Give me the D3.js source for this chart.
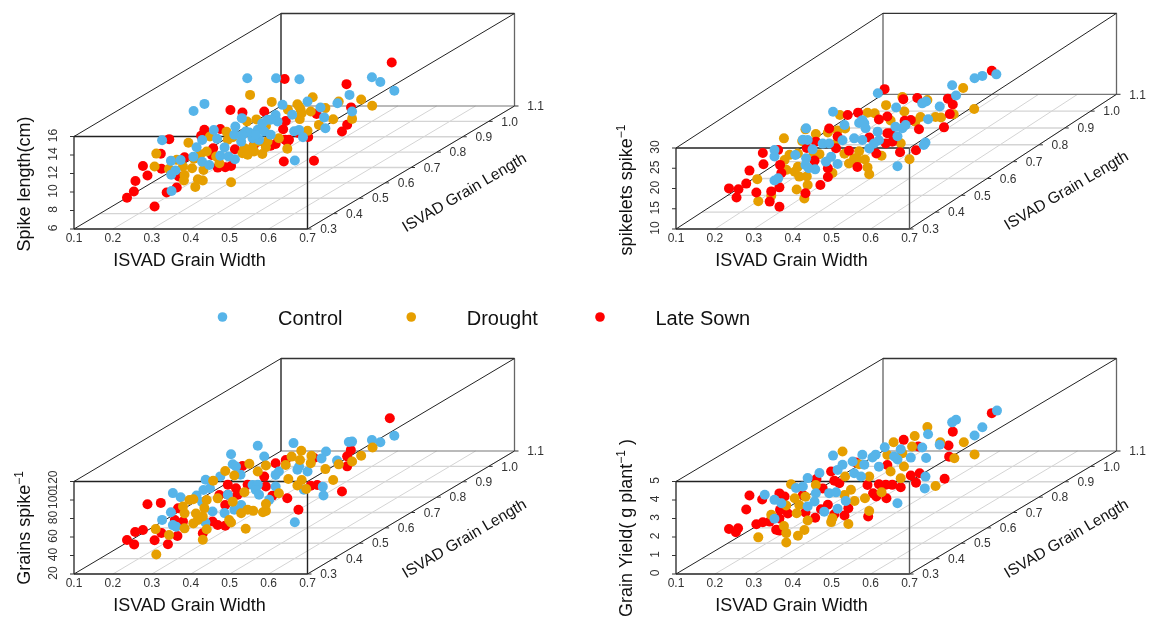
<!DOCTYPE html>
<html>
<head>
<meta charset="utf-8">
<script src="https://cdn.jsdelivr.net/npm/d3@7"></script>
<style>
  html, body { margin: 0; padding: 0; background: #fff; }
  svg { display: block; font-family: "Liberation Sans", Arial, sans-serif; filter: blur(0.35px); }
</style>
</head>
<body>
<div id="chart"></div>
<script>
// points are [grain width, grain length, trait value]

var widthTicks = [0.1, 0.2, 0.3, 0.4, 0.5, 0.6, 0.7];
var lengthTicks = [0.3, 0.4, 0.5, 0.6, 0.7, 0.8, 0.9, 1.0, 1.1];
var spikeTicks = [6, 8, 10, 12, 14, 16];
var spikeletTicks = [10, 15, 20, 25, 30];
var grainTicks = [20, 40, 60, 80, 100, 120];
var yieldTicks = [0, 1, 2, 3, 4, 5];

var seriesNames = ["Control", "Drought", "Late Sown"];
var seriesColors = ["#56B4E9", "#E69F00", "#FF0000"];

var spikeControl = [[.266,.72,15.31],[.34,.72,15.31],[.4,.72,15.2],[.269,.55,15.37],[.241,.55,14.6],[.567,.749,14.95],[.58,.762,14.22],[.602,.783,12.92],[.532,.715,13.6],[.513,.697,13],[.466,.652,13.93],[.427,.614,14.2],[.486,.672,12.95],[.536,.719,11.73],[.492,.677,11.8],[.494,.679,10.6],[.442,.629,12.88],[.363,.553,13.78],[.353,.543,13.03],[.319,.511,13.2],[.238,.433,13.39],[.301,.493,12.41],[.324,.516,12.16],[.292,.485,11.77],[.336,.527,11.05],[.301,.493,10.07],[.252,.446,10.94],[.267,.461,10.79],[.259,.453,9.78],[.252,.447,9.42],[.253,.447,7.66],[.287,.48,10.83],[.329,.521,10.25],[.352,.543,9.5],[.342,.533,9.96],[.312,.504,9.53],[.362,.552,11.26],[.369,.559,12.23],[.38,.569,11.33],[.388,.577,12.13],[.398,.587,11.77],[.408,.597,11.26],[.395,.584,12.7],[.403,.592,12.95],[.416,.604,13.28],[.419,.607,12.52],[.351,.542,12.16],[.375,.564,12.05],[.39,.579,11],[.446,.633,7.87],[.445,.632,11.05],[.453,.639,11.08],[.459,.645,10.18],[.364,.554,11.95],[.385,.574,11.62],[.408,.597,12.88]];
var spikeDrought = [[.353,.6,15.51],[.41,.598,14.79],[.474,.66,14.25],[.45,.637,13.89],[.435,.623,13.53],[.455,.642,13.2],[.457,.643,12.81],[.471,.657,12.77],[.494,.679,12.77],[.515,.699,13.14],[.55,.733,12.81],[.567,.75,11.84],[.536,.719,10.94],[.506,.691,11.37],[.484,.669,11.12],[.454,.64,12.23],[.386,.575,13.28],[.371,.561,13.28],[.401,.589,12.34],[.339,.53,12.7],[.466,.652,10.76],[.279,.473,12.45],[.229,.424,12.09],[.226,.422,10.72],[.249,.443,10.11],[.261,.455,10.9],[.285,.478,9.6],[.271,.464,10.04],[.273,.467,9.06],[.272,.466,8.49],[.303,.495,9.14],[.294,.487,8.27],[.302,.494,8.02],[.29,.483,7.51],[.346,.537,7.12],[.288,.481,10.58],[.298,.491,10.9],[.308,.5,11.05],[.328,.519,9.46],[.341,.532,11.8],[.349,.539,11.95],[.367,.557,10.47],[.364,.554,9.96],[.372,.562,9.68],[.382,.572,9.86],[.38,.569,10.36],[.39,.579,10.83],[.403,.592,10.61],[.401,.589,10.04],[.395,.584,9.39],[.434,.622,9.32],[.421,.609,10.68],[.313,.505,12.59],[.323,.514,10.29],[.453,.639,13.6]];
var spikeLate = [[.584,.8,15.68],[.362,.72,15.24],[.527,.711,14.83],[.345,.536,14.94],[.364,.554,14.36],[.398,.587,13.93],[.48,.666,12.34],[.534,.718,12.2],[.528,.712,10.43],[.52,.704,9.82],[.452,.638,10.76],[.467,.653,10.07],[.432,.619,12.38],[.428,.615,11.55],[.437,.624,10.25],[.431,.618,10.36],[.304,.497,13.46],[.329,.521,13.14],[.249,.444,13.32],[.299,.492,12.88],[.236,.431,11.95],[.208,.404,11.08],[.215,.411,9.93],[.237,.432,10.32],[.196,.393,9.64],[.194,.39,8.56],[.183,.38,8.05],[.226,.422,6.4],[.245,.44,7.62],[.261,.455,7.91],[.264,.458,9.06],[.273,.467,10.97],[.325,.517,9.03],[.337,.528,8.88],[.346,.537,8.88],[.318,.51,11.23],[.316,.508,10.54],[.352,.543,10.58],[.429,.616,8.05],[.476,.662,7.37],[.416,.604,10.14],[.401,.589,10.18],[.408,.597,10.07],[.434,.622,10.11],[.382,.572,10.58]];

var spikeletControl = [[.366,.68,27.7],[.533,.716,28.2],[.568,.75,28.5],[.58,.762,28.6],[.602,.783,28.1],[.539,.722,25.4],[.492,.677,25.8],[.486,.671,25.6],[.445,.632,26.2],[.513,.698,23.7],[.346,.537,29.1],[.495,.68,21.3],[.491,.676,15.7],[.488,.674,15.2],[.447,.634,11.6],[.392,.581,25.2],[.395,.584,24.3],[.387,.576,24.7],[.397,.586,23],[.364,.554,25.1],[.304,.496,26.7],[.306,.499,23.7],[.299,.491,24.1],[.33,.521,21.9],[.34,.531,21.5],[.361,.551,21.5],[.379,.569,21.2],[.392,.581,20.3],[.416,.604,21.4],[.418,.606,19.2],[.41,.599,18.7],[.403,.591,17.8],[.447,.634,19],[.444,.631,21.5],[.455,.641,20.7],[.46,.646,21.3],[.254,.449,23.3],[.254,.449,21.7],[.287,.48,20.8],[.314,.506,21.1],[.304,.496,19.3],[.303,.495,17.7],[.308,.5,16.7],[.318,.51,16],[.335,.526,17.2],[.343,.534,18.1],[.353,.544,15.9],[.26,.454,16.1],[.254,.449,15.8]];
var spikeletDrought = [[.55,.733,26.8],[.455,.641,28.4],[.494,.679,26.1],[.429,.617,27.4],[.458,.644,24.7],[.4,.589,26.7],[.411,.6,26.1],[.357,.547,27.9],[.483,.669,22.3],[.475,.661,21.5],[.507,.691,21.4],[.515,.7,20.9],[.535,.719,20.9],[.567,.75,20.9],[.436,.624,23.3],[.365,.555,24.2],[.353,.544,24.2],[.338,.529,24.3],[.319,.511,24.7],[.303,.495,26.5],[.269,.463,25.6],[.298,.49,23.8],[.314,.506,19.3],[.325,.516,19.5],[.348,.539,20.9],[.364,.554,18],[.387,.576,17.7],[.379,.569,16.3],[.371,.561,15.3],[.384,.574,15.7],[.396,.585,15.3],[.4,.589,13.2],[.403,.591,11.4],[.422,.61,15.2],[.466,.652,12.6],[.452,.639,17.1],[.291,.484,21],[.278,.471,21.2],[.27,.464,20.2],[.273,.466,17.7],[.291,.484,17.7],[.286,.479,16.7],[.293,.486,15.2],[.305,.497,14.8],[.306,.499,12.6],[.289,.482,12.2],[.33,.45,11.3],[.249,.444,12.2],[.229,.424,11.7],[.227,.423,17.2],[.345,.536,14]];
var spikeletLate = [[.37,.7,27.9],[.456,.643,27.8],[.478,.664,27.2],[.526,.71,25.1],[.534,.717,23.4],[.529,.713,21.2],[.52,.704,18.3],[.385,.575,27.3],[.369,.559,27.4],[.418,.606,24.3],[.431,.619,24.5],[.468,.654,22.2],[.458,.645,22.4],[.481,.666,19.4],[.476,.662,14.4],[.451,.638,14.9],[.414,.602,16.1],[.431,.619,20.4],[.436,.624,20.2],[.403,.591,20.5],[.439,.626,18],[.429,.616,18],[.595,.776,29.3],[.236,.431,23.3],[.26,.454,23.1],[.237,.432,20.5],[.215,.411,19.8],[.263,.457,19.3],[.21,.406,16.8],[.183,.38,16.7],[.198,.394,15.9],[.195,.391,14],[.226,.421,14],[.249,.444,13.3],[.247,.441,10.9],[.286,.42,10.5],[.262,.456,13.8],[.303,.495,10.7],[.326,.518,11.8],[.338,.529,13.3],[.338,.529,15.5],[.317,.509,18.2],[.265,.459,17.2],[.305,.497,21.8],[.319,.511,22.8],[.351,.541,19.9],[.371,.561,18.5],[.384,.574,13.9],[.34,.531,25.2],[.353,.544,22.7]];

var grainControl = [[.388,.577,112.6],[.444,.631,106.5],[.536,.719,93.5],[.531,.714,93.9],[.567,.749,90.3],[.58,.762,85.6],[.602,.783,89.2],[.495,.68,89.2],[.488,.673,83],[.346,.537,110],[.398,.587,99.3],[.349,.539,98.9],[.354,.544,95.7],[.512,.697,76.6],[.466,.652,72.3],[.453,.639,79.8],[.45,.637,76.6],[.421,.609,79.5],[.416,.604,76.6],[.329,.521,88.8],[.306,.499,88.8],[.361,.551,85.6],[.255,.449,82.7],[.267,.461,76.2],[.292,.485,74.1],[.303,.495,78.4],[.313,.505,78.7],[.301,.493,65.4],[.38,.569,71.5],[.388,.577,70.5],[.385,.574,65.4],[.416,.604,64],[.49,.675,52.1],[.491,.676,42.3],[.46,.647,53.5],[.341,.532,67.2],[.317,.509,52.8],[.336,.527,48.1],[.362,.552,52.8],[.351,.542,49.2],[.252,.446,62.5],[.238,.433,56.4],[.255,.449,48.1],[.26,.454,45.6],[.306,.498,42.7],[.446,.633,20.5],[.39,.579,59.3],[.406,.594,51.3]];
var grainDrought = [[.456,.643,96.3],[.441,.628,92.4],[.472,.658,88.4],[.454,.641,86.6],[.471,.657,80.5],[.432,.619,84.8],[.375,.564,95.2],[.401,.589,89.2],[.388,.577,84.8],[.337,.528,93.5],[.318,.51,85.9],[.351,.542,86.2],[.436,.623,69],[.457,.643,64.6],[.45,.637,59.6],[.464,.65,53.8],[.494,.679,70.4],[.506,.691,56.7],[.515,.699,72.2],[.536,.719,71.9],[.55,.733,75.8],[.568,.75,81.9],[.421,.609,56],[.367,.557,65.7],[.349,.539,58.5],[.325,.517,65.7],[.308,.5,66.8],[.281,.474,71.1],[.287,.48,70.8],[.271,.464,65.7],[.273,.467,57.8],[.291,.484,54.9],[.294,.487,47.4],[.287,.48,44.8],[.304,.497,58.5],[.302,.494,49.9],[.308,.5,35.1],[.302,.494,24.7],[.273,.467,41.6],[.249,.443,38.4],[.228,.423,48.1],[.229,.424,20.4],[.343,.534,39.4],[.346,.537,36.2],[.369,.559,25.8],[.362,.552,43.8],[.372,.562,45.9],[.381,.57,43.4],[.396,.585,39.4],[.401,.589,40.2],[.401,.589,47.7]];
var grainLate = [[.595,.776,109.3],[.534,.717,84.8],[.528,.712,78.7],[.528,.712,67.9],[.52,.704,42],[.481,.667,55.3],[.471,.657,56],[.416,.604,89.2],[.432,.619,90.3],[.364,.554,94.6],[.398,.587,77.6],[.401,.589,66.5],[.372,.562,73],[.341,.532,78],[.354,.544,72.2],[.341,.532,67.2],[.356,.547,64.6],[.328,.519,69],[.434,.622,48.4],[.411,.599,54.9],[.452,.638,33.3],[.215,.411,76.9],[.236,.431,75.1],[.263,.457,65],[.258,.452,53.1],[.271,.464,49.5],[.317,.509,42],[.325,.517,36.9],[.337,.528,34.4],[.337,.528,56.7],[.302,.494,31.9],[.262,.456,35.1],[.237,.432,42.3],[.226,.422,36.2],[.196,.392,50.2],[.208,.404,50.2],[.183,.38,43.4],[.194,.391,36.9],[.247,.442,28.6],[.476,.662,85.2]];

var yieldControl = [[.603,.784,4.81],[.539,.722,4.83],[.533,.716,4.74],[.58,.762,4.09],[.568,.75,3.75],[.495,.68,4.4],[.513,.698,3.68],[.486,.671,3.75],[.492,.677,3.14],[.427,.615,4.23],[.452,.639,3.93],[.392,.581,4.11],[.346,.537,4.43],[.413,.601,3.95],[.408,.596,3.84],[.468,.654,3.35],[.447,.634,3.41],[.442,.629,3.62],[.418,.606,3.26],[.395,.584,3.55],[.377,.566,3.87],[.361,.551,3.82],[.353,.544,3.6],[.325,.516,3.66],[.306,.499,3.53],[.379,.569,3.21],[.39,.579,2.95],[.491,.676,2.14],[.49,.675,1.51],[.447,.634,1.05],[.239,.434,3.17],[.254,.449,2.77],[.265,.459,2.5],[.288,.481,3.14],[.299,.491,3.14],[.319,.511,2.61],[.34,.531,2.45],[.351,.541,2.41],[.317,.509,2.18],[.306,.499,2],[.353,.544,1.5],[.332,.524,1.51],[.366,.556,1.82],[.254,.449,1.75]];
var yieldDrought = [[.494,.679,4.79],[.474,.66,4.47],[.441,.628,4.4],[.47,.656,3.93],[.514,.699,3.8],[.551,.734,3.51],[.568,.75,2.72],[.536,.72,2.77],[.507,.691,1.51],[.431,.619,3.78],[.455,.641,3.69],[.361,.551,4.54],[.457,.644,2.95],[.436,.624,2.85],[.403,.591,2.85],[.365,.555,3.15],[.28,.474,3.41],[.319,.511,3.06],[.387,.576,3.64],[.303,.495,2.56],[.286,.479,2.61],[.273,.466,2.32],[.293,.486,2.18],[.289,.482,1.77],[.306,.499,1.24],[.345,.536,1.05],[.343,.534,.86],[.37,.56,.54],[.403,.591,.99],[.38,.569,1.71],[.364,.554,2.16],[.374,.564,2.36],[.396,.585,1.73],[.422,.61,1.84],[.249,.444,2],[.269,.463,1.24],[.273,.466,.83],[.273,.466,.32],[.291,.484,.54],[.301,.494,.77],[.229,.424,.95],[.452,.639,2.36]];
var yieldLate = [[.595,.776,4.74],[.534,.717,4.23],[.457,.643,4.4],[.527,.711,3.53],[.48,.665,3.86],[.528,.712,2.92],[.521,.705,1.78],[.482,.667,2.4],[.468,.654,2.38],[.476,.662,1.93],[.431,.619,3.24],[.343,.534,3.6],[.382,.571,3.78],[.32,.512,3.37],[.215,.411,3.32],[.235,.43,2.95],[.262,.456,3.06],[.27,.464,2.83],[.21,.406,2.61],[.263,.457,2.16],[.275,.469,1.87],[.303,.495,1.71],[.327,.519,1.68],[.338,.529,1.84],[.318,.51,1.3],[.348,.539,1.24],[.364,.554,1.05],[.37,.56,1.39],[.401,.59,.7],[.183,.38,1.77],[.197,.394,1.69],[.194,.39,1.51],[.226,.421,1.68],[.236,.431,1.71],[.247,.441,1.66],[.262,.456,1.71],[.257,.451,1.14],[.262,.456,1.05],[.409,.597,1.89],[.414,.602,1.68],[.43,.617,1.46],[.452,.639,1.87],[.439,.626,2.11],[.429,.616,2.2],[.418,.606,2.31],[.356,.546,2.86],[.348,.539,3.05],[.4,.589,2.41],[.33,.521,2.79],[.299,.491,2.68]];

var width = 1158,
    height = 617;

var panels = [
    {left: 74, bottom: 229, zh: 92.5, rise: 123, labelX: 24, labelY: 184, lenY: -37, order: [2, 1, 0],
     ticks: spikeTicks, label: [["Spike length(cm)"]], series: [spikeControl, spikeDrought, spikeLate]},
    {left: 676, bottom: 229, zh: 81, rise: 134.7, labelX: 626, labelY: 190, lenY: -39, order: [1, 2, 0],
     ticks: spikeletTicks, label: [["spikelets spike"], ["\u22121", 1]], series: [spikeletControl, spikeletDrought, spikeletLate]},
    {left: 74, bottom: 574, zh: 92.5, rise: 123, labelX: 24, labelY: 528, lenY: -36, order: [2, 0, 1],
     ticks: grainTicks, label: [["Grains spike"], ["\u22121", 1]], series: [grainControl, grainDrought, grainLate]},
    {left: 676, bottom: 574, zh: 92.5, rise: 123, labelX: 626, labelY: 528, lenY: -36, order: [2, 1, 0],
     ticks: yieldTicks, label: [["Grain Yield( g plant"], ["\u22121", 1], [" )", 2]], series: [yieldControl, yieldDrought, yieldLate]}
];

var svg = d3.select("#chart").append("svg")
    .attr("width", width)
    .attr("height", height);

panels.forEach(drawPanel);
drawLegend();

function drawPanel(p) {
    var g = svg.append("g");

    var xW = d3.scaleLinear().domain([0.1, 0.7]).range([p.left, p.left + 233.5]);
    var yZ = d3.scaleLinear().domain(d3.extent(p.ticks)).range([p.bottom, p.bottom - p.zh]);
    var dxL = d3.scaleLinear().domain([0.3, 1.1]).range([0, 207]);
    var dyL = d3.scaleLinear().domain([0.3, 1.1]).range([0, -p.rise]);

    var zMin = p.ticks[0],
        zMax = p.ticks[p.ticks.length - 1];

    function px(w, l) { return xW(w) + dxL(l); }
    function py(z, l) { return yZ(z) + dyL(l); }

    function seg(a, b, color, sw) {
        g.append("line")
            .attr("x1", px(a[0], a[1])).attr("y1", py(a[2], a[1]))
            .attr("x2", px(b[0], b[1])).attr("y2", py(b[2], b[1]))
            .attr("stroke", color)
            .attr("stroke-width", sw);
    }

    // floor grid
    widthTicks.slice(1).forEach(function(t) {
        seg([t, 0.3, zMin], [t, 1.1, zMin], "#d4d4d4", 1);
    });
    lengthTicks.slice(1, -1).forEach(function(t) {
        seg([0.1, t, zMin], [0.7, t, zMin], "#d4d4d4", 1.4);
    });

    // box, back wall first
    seg([0.1, 1.1, zMin], [0.7, 1.1, zMin], "#777", 1.2);
    seg([0.1, 1.1, zMin], [0.1, 1.1, zMax], p.left > 300 ? "#777" : "#333", 1.5);
    seg([0.7, 1.1, zMin], [0.7, 1.1, zMax], "#666", 1.3);
    seg([0.1, 1.1, zMax], [0.7, 1.1, zMax], "#333", 1.3);
    seg([0.1, 0.3, zMin], [0.1, 1.1, zMin], "#222", 1);
    seg([0.7, 0.3, zMin], [0.7, 1.1, zMin], "#222", 1);
    seg([0.1, 0.3, zMax], [0.1, 1.1, zMax], "#222", 1);
    seg([0.7, 0.3, zMax], [0.7, 1.1, zMax], "#222", 1);
    seg([0.1, 0.3, zMin], [0.7, 0.3, zMin], "#222", 1.3);
    seg([0.1, 0.3, zMax], [0.7, 0.3, zMax], "#222", 1.4);
    seg([0.1, 0.3, zMin], [0.1, 0.3, zMax], "#222", 1.3);
    seg([0.7, 0.3, zMin], [0.7, 0.3, zMax], p.left > 300 ? "#555" : "#222", 1.4);

    // tick marks and numbers
    p.ticks.forEach(function(t) {
        g.append("line")
            .attr("x1", p.left - 4).attr("x2", p.left)
            .attr("y1", yZ(t)).attr("y2", yZ(t))
            .attr("stroke", "#333");
        g.append("text")
            .attr("transform", "translate(" + (p.left - 21) + "," + (yZ(t) - 1) + ") rotate(-90)")
            .attr("text-anchor", "middle")
            .attr("dy", "0.35em")
            .attr("font-size", 12)
            .attr("fill", "#333")
            .text(t);
    });

    widthTicks.forEach(function(t) {
        g.append("text")
            .attr("x", xW(t)).attr("y", p.bottom + 9)
            .attr("text-anchor", "middle")
            .attr("dy", "0.35em")
            .attr("font-size", 12)
            .attr("fill", "#333")
            .text(d3.format(".1f")(t));
    });

    lengthTicks.forEach(function(t) {
        g.append("line")
            .attr("x1", px(0.7, t)).attr("x2", px(0.7, t) + 4)
            .attr("y1", py(zMin, t)).attr("y2", py(zMin, t))
            .attr("stroke", "#333");
        g.append("text")
            .attr("x", px(0.7, t) + 21).attr("y", py(zMin, t))
            .attr("text-anchor", "middle")
            .attr("dy", "0.35em")
            .attr("font-size", 12)
            .attr("fill", "#333")
            .text(d3.format(".1f")(t));
    });

    // axis titles
    g.append("text")
        .attr("x", p.left + 115.5).attr("y", p.bottom + 31)
        .attr("text-anchor", "middle")
        .attr("dy", "0.35em")
        .attr("font-size", 18)
        .attr("fill", "#111")
        .text("ISVAD Grain Width");

    g.append("text")
        .attr("transform", "translate(" + (p.left + 390) + "," + (p.bottom + p.lenY) + ") rotate(-30.4)")
        .attr("text-anchor", "middle")
        .attr("dy", "0.35em")
        .attr("font-size", 15.7)
        .attr("fill", "#111")
        .text("ISVAD Grain Length");

    var title = g.append("text")
        .attr("transform", "translate(" + p.labelX + "," + p.labelY + ") rotate(-90)")
        .attr("text-anchor", "middle")
        .attr("dy", "0.35em")
        .attr("font-size", 18)
        .attr("fill", "#111");
    p.label.forEach(function(part) {
        var span = title.append("tspan").text(part[0]);
        if (part[1] == 1) span.attr("dy", -7).attr("font-size", 12);
        if (part[1] == 2) span.attr("dy", 7);
    });

    // points, drawn in the panel's own series order
    p.order.forEach(function(i) {
        g.append("g").selectAll("circle")
            .data(p.series[i])
            .enter().append("circle")
            .attr("cx", function(d) { return px(d[0], d[1]); })
            .attr("cy", function(d) { return py(d[2], d[1]); })
            .attr("r", 5)
            .attr("fill", seriesColors[i]);
    });
}

function drawLegend() {
    var legendX = d3.scalePoint().domain(seriesNames).range([222.5, 600]);
    seriesNames.forEach(function(name, i) {
        svg.append("circle")
            .attr("cx", legendX(name)).attr("cy", 317)
            .attr("r", 4.8)
            .attr("fill", seriesColors[i]);
        svg.append("text")
            .attr("x", legendX(name) + 55.5).attr("y", 318)
            .attr("dy", "0.35em")
            .attr("font-size", 20)
            .attr("fill", "#111")
            .text(name);
    });
}
</script>
</body>
</html>
